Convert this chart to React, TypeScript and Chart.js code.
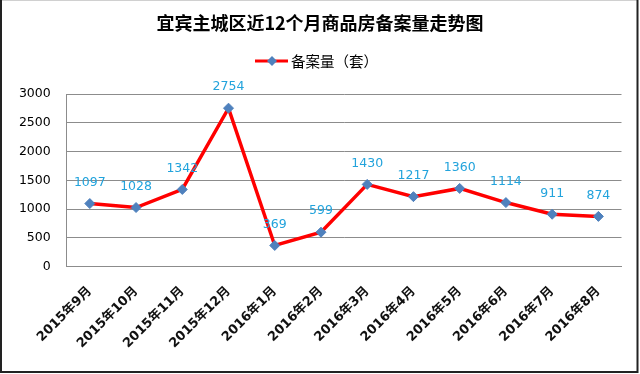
import React, { useEffect, useRef } from 'react';
import { Chart, registerables } from 'chart.js';

Chart.register(...registerables);

const chartTitle = '宜宾主城区近12个月商品房备案量走势图';
const seriesName = '备案量（套）';
const categories = [
  '2015年9月', '2015年10月', '2015年11月', '2015年12月',
  '2016年1月', '2016年2月', '2016年3月', '2016年4月',
  '2016年5月', '2016年6月', '2016年7月', '2016年8月',
];
const values = [1097, 1028, 1342, 2754, 369, 599, 1430, 1217, 1360, 1114, 911, 874];
const yMin = 0;
const yMax = 3000;
const yStep = 500;

const LINE_RED = '#FF0000';
const MARKER_BLUE = '#4F81BD';
const LABEL_CYAN = '#22A3DC';
const SANS = "'DejaVu Sans', 'Noto Sans CJK SC', sans-serif";
const CJK = "'Noto Sans CJK SC', 'DejaVu Sans', sans-serif";

const decorPlugin = {
  id: 'decor',
  afterDatasetsDraw(chart: any) {
    const ctx = chart.ctx;
    const meta = chart.getDatasetMeta(0);
    ctx.save();
    ctx.font = `12.5px ${SANS}`;
    ctx.fillStyle = LABEL_CYAN;
    ctx.textAlign = 'center';
    ctx.textBaseline = 'middle';
    meta.data.forEach((pt: any, i: number) => {
      ctx.fillText(String(chart.data.datasets[0].data[i]), pt.x, pt.y - 21);
    });
    ctx.restore();
  },
  afterDraw(chart: any) {
    const ctx = chart.ctx;
    ctx.save();
    // legend
    const ly = 61;
    ctx.strokeStyle = LINE_RED;
    ctx.lineWidth = 3;
    ctx.beginPath();
    ctx.moveTo(255, ly);
    ctx.lineTo(288, ly);
    ctx.stroke();
    ctx.fillStyle = MARKER_BLUE;
    ctx.beginPath();
    ctx.moveTo(272 - 5, ly);
    ctx.lineTo(272, ly - 5);
    ctx.lineTo(272 + 5, ly);
    ctx.lineTo(272, ly + 5);
    ctx.closePath();
    ctx.fill();
    ctx.fillStyle = '#000';
    ctx.font = `14.5px ${CJK}`;
    ctx.textAlign = 'left';
    ctx.textBaseline = 'middle';
    ctx.fillText(seriesName, 291, ly);
    // frame
    ctx.strokeStyle = '#d0d0d0';
    ctx.lineWidth = 1;
    ctx.beginPath();
    ctx.moveTo(0, 0.5);
    ctx.lineTo(638, 0.5);
    ctx.stroke();
    ctx.strokeStyle = '#222';
    ctx.lineWidth = 2;
    ctx.beginPath();
    ctx.moveTo(1, 0);
    ctx.lineTo(1, 372);
    ctx.lineTo(637.5, 372);
    ctx.lineTo(637.5, 0);
    ctx.stroke();
    ctx.restore();
  },
};

export default function App() {
  const ref = useRef<HTMLCanvasElement | null>(null);
  useEffect(() => {
    if (!ref.current) return;
    const chart = new Chart(ref.current, {
      type: 'line',
      data: {
        labels: categories,
        datasets: [
          {
            label: seriesName,
            data: values,
            borderColor: LINE_RED,
            backgroundColor: MARKER_BLUE,
            borderWidth: 3.5,
            tension: 0,
            pointStyle: 'rectRot',
            pointRadius: 5,
            pointBackgroundColor: MARKER_BLUE,
            pointBorderColor: MARKER_BLUE,
            pointBorderWidth: 1,
          },
        ],
      },
      options: {
        responsive: false,
        animation: false,
        layout: { padding: { left: 0, right: 0, top: 0, bottom: 0 } },
        plugins: {
          legend: { display: false },
          tooltip: { enabled: false },
          title: {
            display: true,
            text: chartTitle,
            color: '#000',
            font: { family: CJK, size: 18, weight: 'bold', lineHeight: 1.2 },
            padding: { top: 12, bottom: 60.4 },
          },
        },
        scales: {
          x: {
            offset: true,
            grid: { display: false, drawTicks: false },
            border: { display: true, color: '#8c8c8c', width: 1 },
            ticks: {
              autoSkip: false,
              minRotation: 45,
              maxRotation: 45,
              padding: 17,
              color: '#111',
              font: { family: SANS, size: 13, weight: 'bold' },
            },
            afterFit(scale: any) {
              scale.height = 107.3;
            },
          },
          y: {
            min: yMin,
            max: yMax,
            grid: { color: '#8c8c8c', drawTicks: false, lineWidth: 1 },
            border: { display: true, color: '#8c8c8c', width: 1 },
            ticks: {
              stepSize: yStep,
              padding: 16,
              color: '#000',
              font: { family: SANS, size: 12.5 },
              callback: (v: any) => String(v),
            },
            afterFit(scale: any) {
              scale.width = 66.7;
            },
          },
          yRightSpace: {
            position: 'right',
            display: true,
            grid: { display: false, drawTicks: false },
            border: { display: false },
            ticks: { display: false },
            afterFit(scale: any) {
              scale.width = 18.5;
            },
          },
        },
      },
      plugins: [decorPlugin],
    });
    return () => chart.destroy();
  }, []);
  return (
    <div style={{ position: 'fixed', left: 0, top: 0, width: 640, height: 374, background: '#fff' }}>
      <canvas ref={ref} width={640} height={374} style={{ display: 'block' }} />
    </div>
  );
}
